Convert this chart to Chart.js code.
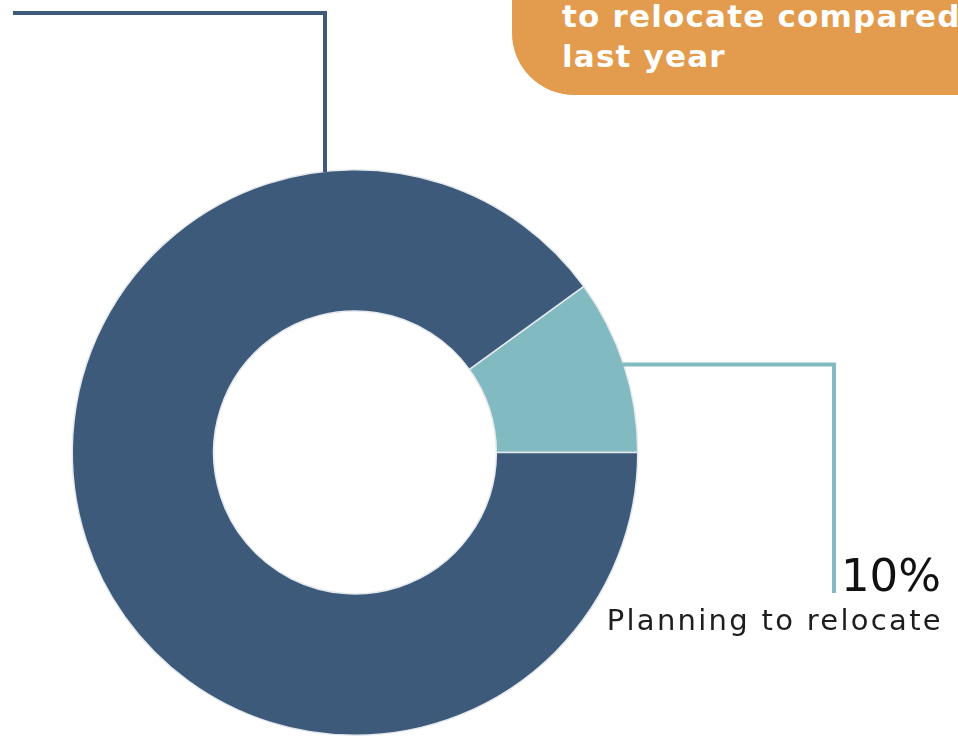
<!DOCTYPE html>
<html>
<head>
<meta charset="utf-8">
<script src="https://cdn.jsdelivr.net/npm/chart.js@4/dist/chart.umd.min.js"></script>
<style>
  html, body { margin: 0; padding: 0; background: #ffffff; overflow: hidden; }
  #wrap { position: relative; width: 958px; height: 736px; overflow: hidden; }
  #chart { position: absolute; left: 0; top: 0; }
  .callout {
    position: absolute; left: 512px; top: -60px; width: 520px; height: 155px;
    background: #E39B4D; border-bottom-left-radius: 62px;
  }
  .callout-text {
    position: absolute; left: 562px; top: -4px; margin: 0;
    font-family: "DejaVu Sans", sans-serif; font-weight: bold; font-size: 31px;
    letter-spacing: 1.2px; line-height: 40px; color: #ffffff; white-space: nowrap;
  }
  .pct {
    position: absolute; right: 17px; top: 549px; margin: 0;
    font-family: "DejaVu Sans", sans-serif; font-weight: normal; font-size: 45px;
    line-height: 54px; color: #111111; white-space: nowrap;
  }
  .label {
    position: absolute; right: 15px; top: 603px; margin: 0;
    font-family: "DejaVu Sans", sans-serif; font-size: 29px; letter-spacing: 2.3px;
    line-height: 34px; color: #1e1e1e; white-space: nowrap;
  }
</style>
</head>
<body>
<div id="wrap">
  <canvas id="chart" width="958" height="736"></canvas>
  <div class="callout"></div>
  <p class="callout-text">to relocate compared<br>last year</p>
  <p class="pct" id="pct"></p>
  <p class="label" id="lbl"></p>
</div>
<script>
// Share of respondents by relocation plans
const categories = ["Planning to relocate", "Not planning to relocate"];
const shares = [10, 90];
const colors = ["#82BAC1", "#3E5A7A"];

document.getElementById("pct").textContent = shares[0] + "%";
document.getElementById("lbl").textContent = categories[0];

// Leader lines running out from the ring to the callouts
const leaderLines = {
  id: "leaderLines",
  afterDatasetsDraw(chart) {
    const arc = chart.getDatasetMeta(0).data[0];
    if (!arc) return;
    const cx = arc.x, cy = arc.y, R = arc.outerRadius;
    const ctx = chart.ctx;
    ctx.save();
    ctx.lineWidth = 4;
    ctx.lineCap = "butt";
    ctx.lineJoin = "miter";

    // navy line: from the top of the ring up and to the left edge
    const nx = cx - 30;
    const ny = cy - Math.sqrt(R * R - 30 * 30);
    ctx.strokeStyle = colors[1];
    ctx.beginPath();
    ctx.moveTo(nx, ny + 1);
    ctx.lineTo(nx, 13);
    ctx.lineTo(13, 13);
    ctx.stroke();

    // teal line: from the small slice out to the right and down to the label
    const ty = cy - 88;
    const tx = cx + Math.sqrt(R * R - 88 * 88);
    ctx.strokeStyle = colors[0];
    ctx.beginPath();
    ctx.moveTo(tx - 1, ty);
    ctx.lineTo(834, ty);
    ctx.lineTo(834, 593);
    ctx.stroke();
    ctx.restore();
  }
};

new Chart(document.getElementById("chart"), {
  type: "doughnut",
  data: {
    labels: categories,
    datasets: [{
      data: shares,
      backgroundColor: colors,
      borderColor: "#e4e9ee",
      borderWidth: 1.5
    }]
  },
  options: {
    responsive: false,
    animation: false,
    rotation: 54,
    cutout: "50%",
    layout: { padding: { left: 71, right: 319, top: 169, bottom: -1 } },
    plugins: { legend: { display: false }, tooltip: { enabled: false } }
  },
  plugins: [leaderLines]
});
</script>
</body>
</html>
